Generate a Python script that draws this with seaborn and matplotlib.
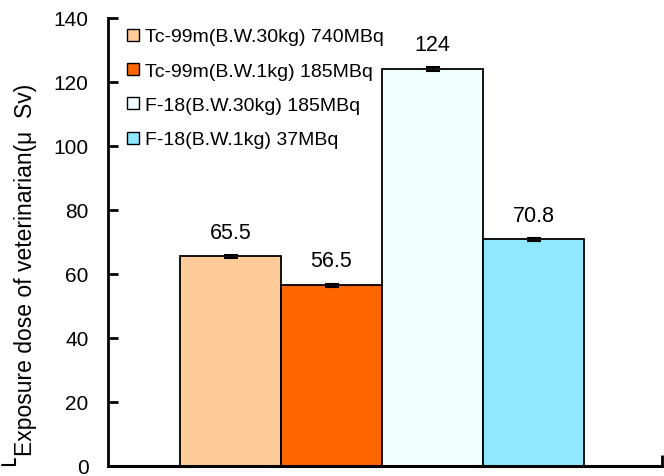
import matplotlib
matplotlib.use("Agg")
import matplotlib.pyplot as plt
from matplotlib.lines import Line2D
import seaborn as sns
import pandas as pd
import numpy as np

categories = ["Tc-99m(B.W.30kg) 740MBq", "Tc-99m(B.W.1kg) 185MBq",
              "F-18(B.W.30kg) 185MBq", "F-18(B.W.1kg) 37MBq"]
values = [65.5, 56.5, 124, 70.8]
errors = [0.5, 0.5, 0.6, 0.5]
labels = ["65.5", "56.5", "124", "70.8"]
colors = ["#FFCC99", "#FF6600", "#F0FFFF", "#8FE8FF"]
yticks = [0, 20, 40, 60, 80, 100, 120, 140]

sns.set_theme(style="white")
plt.rcParams['font.family'] = ['Liberation Sans', 'DejaVu Sans']
plt.rcParams['text.color'] = 'black'
plt.rcParams['axes.labelcolor'] = 'black'
plt.rcParams['xtick.color'] = 'black'
plt.rcParams['ytick.color'] = 'black'

df = pd.DataFrame({"cat": categories, "val": values})

fig = plt.figure(figsize=(6.64, 4.77), dpi=100)
ax = fig.add_axes([108/664, 1-467/477, (662-108)/664, (467-19)/477])

sns.barplot(data=df, x="cat", y="val", hue="cat", palette=colors,
            order=categories, hue_order=categories, dodge=False, saturation=1,
            width=1.0, edgecolor="black", linewidth=1.3, legend=False, ax=ax)

xs = [p.get_x() + p.get_width()/2 for p in ax.patches[:4]]
ax.errorbar(xs, values, yerr=errors, fmt="none", ecolor="black",
            elinewidth=1.2, capsize=5, capthick=1.5, zorder=5)
for x, v, t in zip(xs, values, labels):
    ax.annotate(t, (x, v), xytext=(0, 10), textcoords="offset points",
                ha="center", va="bottom", fontsize=15.5, color="black")

ax.set_xlim(-1.213, 4.272)
ax.set_ylim(0, 140)
ax.set_yticks(yticks)
ax.set_xticks([4.272])
ax.set_xticklabels([""])
ax.tick_params(axis="x", direction="in", length=8, width=2, bottom=True)
ax.tick_params(axis="y", direction="in", length=7, width=2, labelsize=15,
               pad=14, left=True, labelcolor="black")
ax.set_xlabel("")
ax.set_ylabel("Exposure dose of veterinarian(μ  Sv)", fontsize=16.5, color="black")
ax.yaxis.set_label_coords(-0.128, 0.44)
for s in ["top", "right"]:
    ax.spines[s].set_visible(False)
ax.spines["left"].set_linewidth(2)
ax.spines["bottom"].set_linewidth(2.2)
ax.spines["left"].set_color("black")
ax.spines["bottom"].set_color("black")

handles = [Line2D([], [], marker="s", linestyle="none", markersize=8,
                  markerfacecolor=c, markeredgecolor="black", markeredgewidth=1)
           for c in colors]
leg = ax.legend(handles, categories, loc="upper left", bbox_to_anchor=(0.015, 1.0),
                frameon=False, fontsize=14, handlelength=0.7, handletextpad=0.3,
                labelspacing=0.86, borderaxespad=0.1)
for t in leg.get_texts():
    t.set_color("black")

fig.add_artist(Line2D([2/664, 15/664, 15/664], [1-466/477, 1-466/477, 1-460/477],
                      color="black", linewidth=1.5))

fig.savefig("out.png", dpi=100)
